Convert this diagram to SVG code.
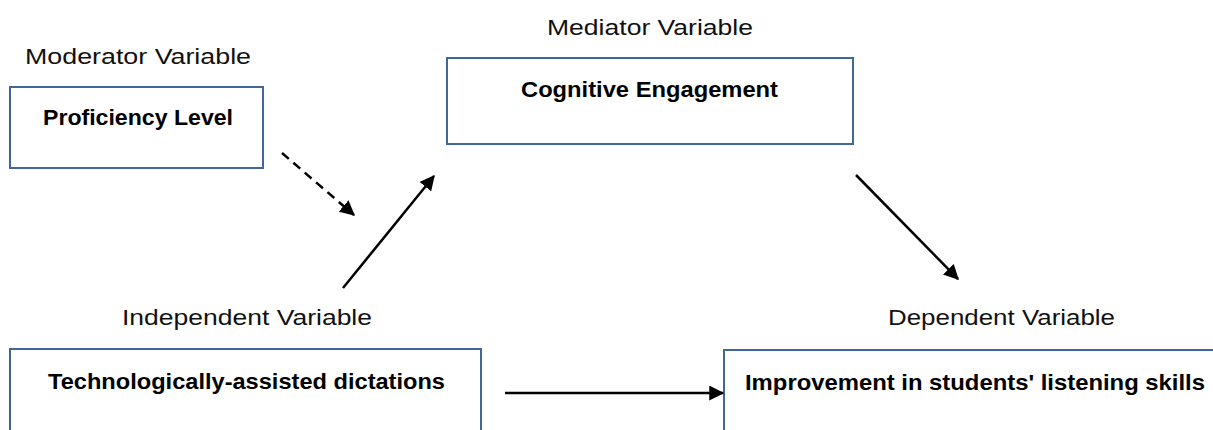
<svg xmlns="http://www.w3.org/2000/svg" width="1213" height="430" viewBox="0 0 1213 430">
<style>
.box{fill:#fff;stroke:#41669c;stroke-width:2}
.lbl{font-family:"Liberation Sans",Arial,sans-serif;font-size:22px;fill:#111}
.ttl{font-family:"Liberation Sans",Arial,sans-serif;font-size:22px;font-weight:bold;fill:#000}
.con{stroke:#000;stroke-width:2.5;fill:none;marker-end:url(#ah)}
</style>
<defs>
<marker id="ah" markerWidth="6" markerHeight="6" refX="5.5" refY="3" orient="auto" markerUnits="strokeWidth" viewBox="0 0 6 6">
<path d="M0,0 L6,3 L0,6 z" fill="#000"/>
</marker>
</defs>
<rect width="1213" height="430" fill="#fff"/>
<g id="moderator">
<text class="lbl" x="25" y="64" textLength="226" lengthAdjust="spacingAndGlyphs">Moderator Variable</text>
<rect class="box" x="10" y="87" width="253" height="81"/>
<text class="ttl" x="43" y="125" textLength="190" lengthAdjust="spacingAndGlyphs">Proficiency Level</text>
</g>
<g id="mediator">
<text class="lbl" x="547" y="35" textLength="206" lengthAdjust="spacingAndGlyphs">Mediator Variable</text>
<rect class="box" x="447" y="58" width="406" height="86"/>
<text class="ttl" x="521" y="97" textLength="257" lengthAdjust="spacingAndGlyphs">Cognitive Engagement</text>
</g>
<g id="independent">
<text class="lbl" x="122" y="325" textLength="250" lengthAdjust="spacingAndGlyphs">Independent Variable</text>
<rect class="box" x="10" y="349" width="471" height="100"/>
<text class="ttl" x="48" y="389" textLength="397" lengthAdjust="spacingAndGlyphs">Technologically-assisted dictations</text>
</g>
<g id="dependent">
<text class="lbl" x="888" y="325" textLength="227" lengthAdjust="spacingAndGlyphs">Dependent Variable</text>
<rect class="box" x="724" y="350" width="520" height="100"/>
<text class="ttl" x="745" y="390" textLength="460" lengthAdjust="spacingAndGlyphs">Improvement in students' listening skills</text>
</g>
<g id="connectors">
<line class="con" x1="282" y1="153" x2="354" y2="215" stroke-dasharray="9,6"/>
<line class="con" x1="343" y1="288" x2="434" y2="176"/>
<line class="con" x1="856" y1="175" x2="958" y2="279"/>
<line class="con" x1="505" y1="393" x2="723" y2="393"/>
</g>
</svg>
